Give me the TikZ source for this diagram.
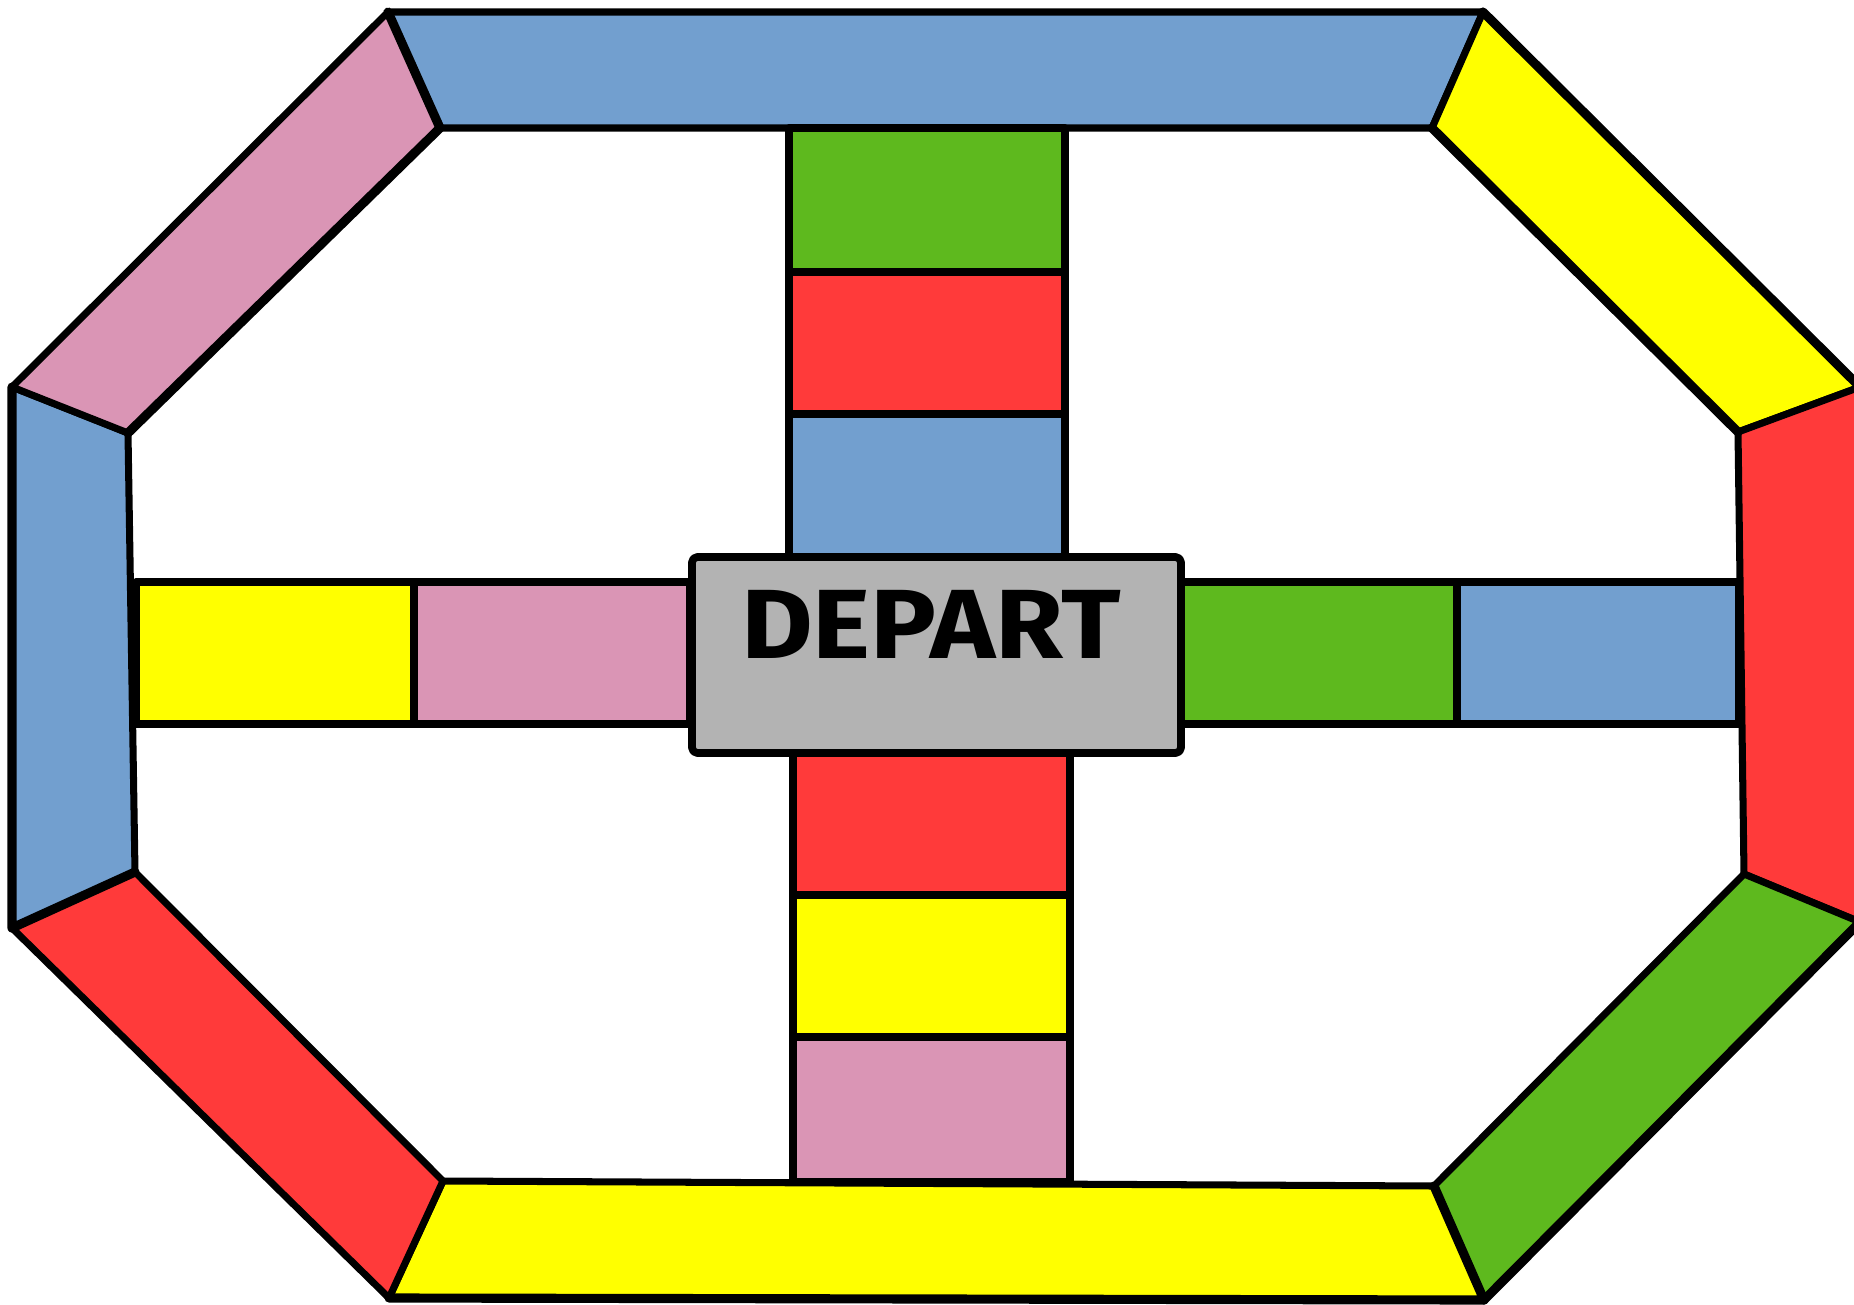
\documentclass[tikz,border=0pt]{standalone}
\usepackage{fontspec}
\newfontfamily\departfont{Fira Sans}
\definecolor{bleuCase}{HTML}{729FCF}
\definecolor{roseCase}{HTML}{DA95B5}
\definecolor{vertCase}{HTML}{5EB91E}
\definecolor{rougeCase}{HTML}{FF3A3A}
\definecolor{jauneCase}{HTML}{FFFF00}
\definecolor{grisDepart}{HTML}{B3B3B3}

\begin{document}
\begin{tikzpicture}[x=0.02cm,y=-0.02cm,line join=round,
  case/.style={draw=black,line width=4pt},
  bord/.style={line width=5.2pt,line cap=round}]
  \clip (0,0) rectangle (1854,1305);
  % octogone exterieur
  \coordinate (O1) at (388,12);
  \coordinate (O2) at (1483,12);
  \coordinate (O3) at (1860,387);
  \coordinate (O4) at (1860,922);
  \coordinate (O5) at (1484,1300);
  \coordinate (O6) at (389,1298);
  \coordinate (O7) at (12,928);
  \coordinate (O8) at (12,387);
  % octogone interieur
  \coordinate (I1) at (440,128);
  \coordinate (I2) at (1432,128);
  \coordinate (I3) at (1738,432);
  \coordinate (I4) at (1744,874);
  \coordinate (I5) at (1434,1186);
  \coordinate (I6) at (443,1181);
  \coordinate (I7) at (135,872);
  \coordinate (I8) at (128,433);
  % anneau
  \filldraw[case,fill=bleuCase] (O1) -- (O2) -- (I2) -- (I1) -- cycle;
  \filldraw[case,fill=jauneCase] (O2) -- (O3) -- (I3) -- (I2) -- cycle;
  \filldraw[case,fill=rougeCase] (I3) -- (O3) -- (O4) -- (I4) -- cycle;
  \filldraw[case,fill=vertCase] (I4) -- (O4) -- (O5) -- (I5) -- cycle;
  \filldraw[case,fill=jauneCase] (I6) -- (I5) -- (O5) -- (O6) -- cycle;
  \filldraw[case,fill=rougeCase] (I7) -- (I6) -- (O6) -- (O7) -- cycle;
  \filldraw[case,fill=bleuCase] (O8) -- (I8) -- (I7) -- (O7) -- cycle;
  \filldraw[case,fill=roseCase] (O8) -- (O1) -- (I1) -- (I8) -- cycle;
  \draw[bord] (O1) -- (I1) -- (I8);
  \draw[bord] (O8) -- (O7) -- (I7);
  \draw[bord] (O6) -- (O5) -- (I5);
  \draw[bord] (O5) -- (O4);
  \draw[bord] (I2) -- (I3);
  \draw[bord] (O2) -- (O3);
  % croix centrale
  \filldraw[case,fill=vertCase] (789,128) rectangle (1065,272);
  \filldraw[case,fill=rougeCase] (789,272) rectangle (1065,414);
  \filldraw[case,fill=bleuCase] (789,414) rectangle (1065,558);
  \filldraw[case,fill=jauneCase] (136,582) rectangle (414,724);
  \filldraw[case,fill=roseCase] (414,582) rectangle (690,724);
  \filldraw[case,fill=vertCase] (1180,582) rectangle (1457,724);
  \filldraw[case,fill=bleuCase] (1457,582) rectangle (1738,724);
  \filldraw[case,fill=rougeCase] (793,753) rectangle (1070,895);
  \filldraw[case,fill=jauneCase] (793,895) rectangle (1070,1037);
  \filldraw[case,fill=roseCase] (793,1037) rectangle (1070,1182);
  % case depart
  \filldraw[line width=4.4pt,rounded corners=3pt,fill=grisDepart] (692,557) rectangle (1181,753);
  \node[font=\departfont\bfseries\fontsize{56}{60}\selectfont] (depart) at (931,624)
    {\scalebox{1.12}[1]{DEPART}};
\end{tikzpicture}
\end{document}
